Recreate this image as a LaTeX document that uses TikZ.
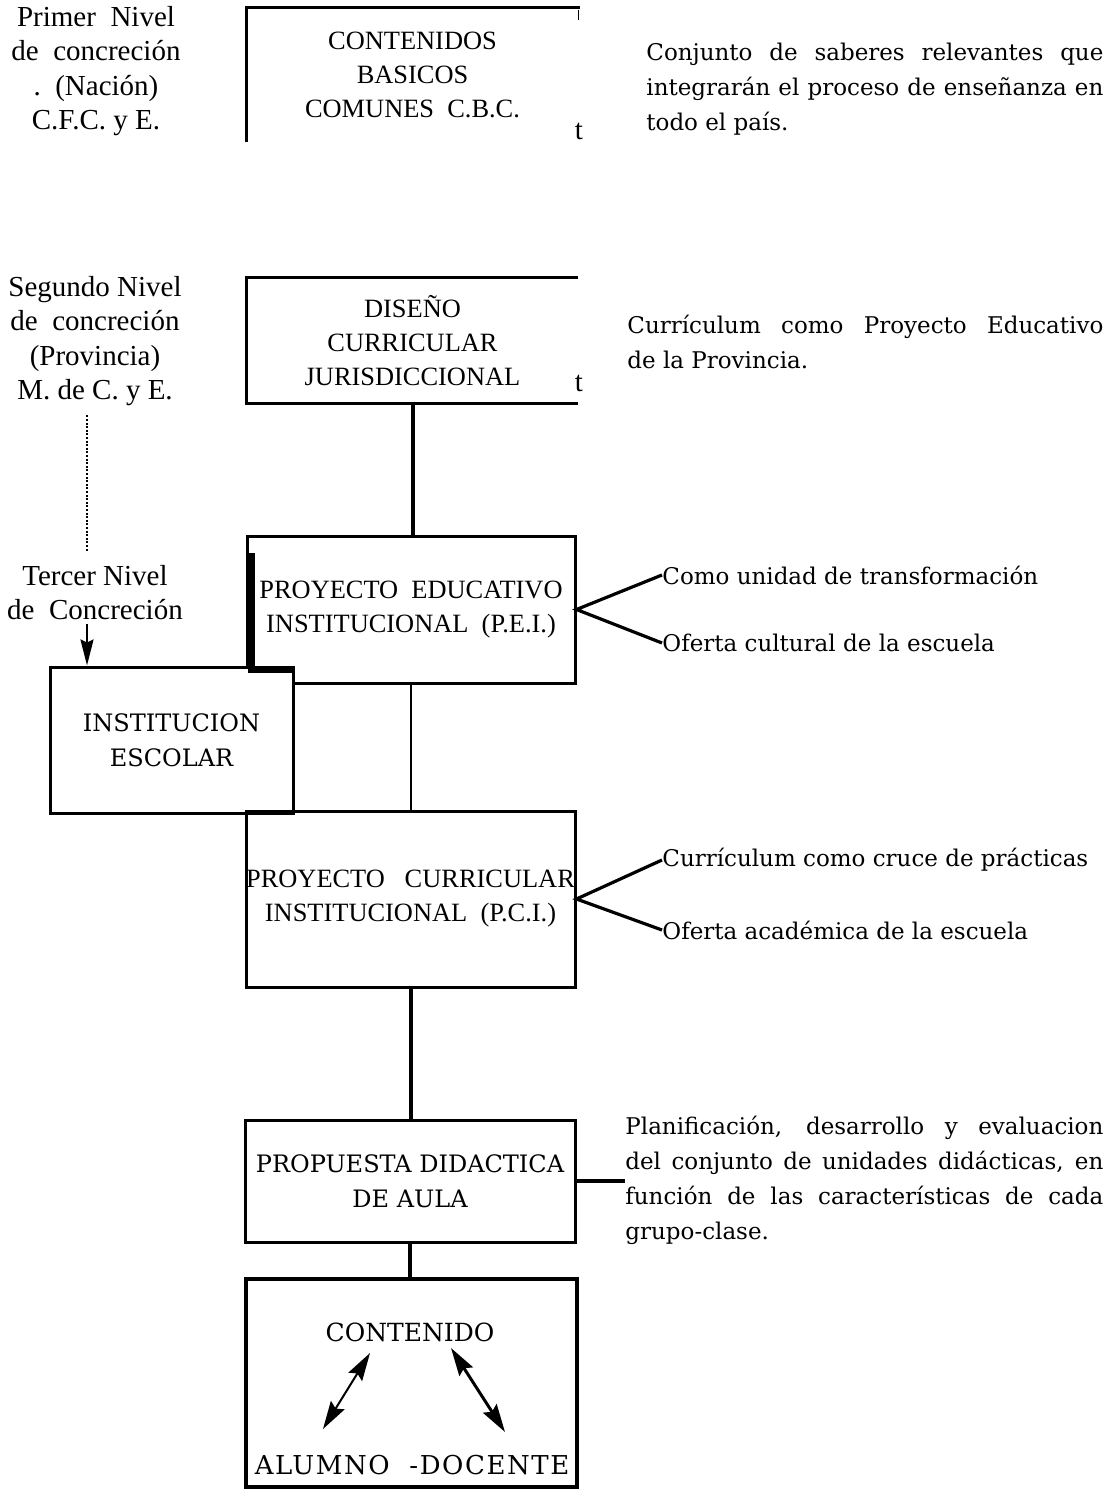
\documentclass[tikz,border=0pt]{standalone}
\usepackage{fontspec}
\setmainfont{Liberation Serif}
\newfontfamily\lucida{DejaVu Serif}
\usetikzlibrary{positioning,arrows.meta}

\begin{document}
\begin{tikzpicture}[x=0.5pt, y=-0.5pt,
    nivel/.style = {align=center, inner sep=0pt, font=\fontsize{14.5}{17.3}\selectfont},
    caja/.style = {align=center, inner sep=0pt, font=\fontsize{13.2}{17}\selectfont},
    cajalu/.style = {align=center, inner sep=0pt, font=\lucida\fontsize{12}{17.5}\selectfont},
    nota/.style = {anchor=west, inner sep=0pt, font=\lucida\fontsize{11.5}{17.5}\selectfont},
    bloque/.style = {nota, align=justify},
    trazo/.style = {line width=1.6pt},
    flecha/.style = {line width=1pt, {Stealth[length=14pt,width=8pt,inset=2pt]}-{Stealth[length=14pt,width=8pt,inset=2pt]}}]
                  \useasboundingbox (0,0) rectangle (1115,1491);
                  \node[nivel] (primer) at (96,71) {Primer\ \ Nivel\\de\ \ concreción\\.\ \ (Nación)\\C.F.C. y E.};
                  \node[nivel] (segundo) at (95,341) {Segundo Nivel\\de\ \ concreción\\(Provincia)\\M. de C. y E.};
                  \node[nivel] (tercer) at (95,592.5) {Tercer Nivel\\de\ \ Concreción};
                  \node[caja, minimum width=165.5pt, minimum height=67pt] (cbc) at (412.5,75) {CONTENIDOS\\BASICOS\\COMUNES\ \ C.B.C.};
                  \node[caja, minimum width=165.5pt, minimum height=62.5pt] (dcj) at (412.5,340.5) {DISEÑO\\CURRICULAR\\JURISDICCIONAL};
                  \node[caja, draw, line width=1.5pt, minimum width=164pt, minimum height=73.5pt] (pei) at (411,609.5) {PROYECTO\ \ EDUCATIVO\\INSTITUCIONAL\ \ (P.E.I.)};
                  \node[cajalu, draw, fill=white, line width=1.5pt, minimum width=121.5pt, minimum height=73pt] (inst) at (171.5,740) {INSTITUCION\\ESCOLAR};
                  \node[caja, draw, line width=1.5pt, minimum width=164.5pt, minimum height=88pt] (pci) at (410.5,899) {PROYECTO\ \ \ CURRICULAR\\INSTITUCIONAL\ \ (P.C.I.)};
                  \node[cajalu, draw, line width=1.5pt, minimum width=165pt, minimum height=61pt] (pda) at (410,1181) {PROPUESTA DIDACTICA\\DE AULA};
                  \node[draw, line width=2.2pt, minimum width=165.5pt, minimum height=104pt] (cont) at (411.5,1383) {};
                  \node[cajalu, font=\lucida\fontsize{12.5}{15}\selectfont] (conte) at (410,1332) {CONTENIDO};
                  \node[cajalu, font=\lucida\fontsize{13}{15}\selectfont\addfontfeature{LetterSpace=6}] (alumdoc) at (412,1465) {ALUMNO\ \ -DOCENTE};
                  \node[nivel] (t1) at (579,131) {t};
                  \node[nivel] (t2) at (579,383) {t};
                  \node[bloque, text width=228.5pt] (saberes) at (646,89) {Conjunto de saberes relevantes que\linebreak integrarán el proceso de enseñanza en\linebreak todo el país.};
                  \node[bloque, text width=238pt] (provincia) at (627,341.5) {Currículum como Proyecto Educativo\linebreak de la Provincia.};
                  \node[nota] (como) at (662,575) {Como unidad de transformación};
                  \node[nota] (ofcult) at (662,643) {Oferta cultural de la escuela};
                  \node[nota] (cruce) at (662,860) {Currículum como cruce de prácticas};
                  \node[nota] (ofacad) at (662,930) {Oferta académica de la escuela};
                  \node[bloque, text width=239pt] (plan) at (625,1180.5) {Planificación, desarrollo y evaluacion\linebreak del conjunto de unidades didácticas, en\linebreak función de las características de cada\linebreak grupo-clase.};
                  \coordinate (t3) at ([xshift=-4pt]tercer.south);
                  \coordinate (s3) at ([xshift=-4pt]segundo.south);
                  \coordinate (a1) at (370,1353);
                  \coordinate (a2) at (323,1429);
                  \coordinate (b1) at (451,1348);
                  \coordinate (b2) at (505,1432);
                  \draw[trazo] (cbc.south west) |- ([xshift=1pt]cbc.north east);
                  \draw[line width=0.8pt] ([yshift=-1pt]cbc.north east) -- ++(0,10);
                  \draw[trazo] (dcj.north east) -| (dcj.south west) -- (dcj.south east);
                  \draw[line width=2pt] (dcj.south) -- (dcj.south |- pei.north);
                  \draw[line width=1.2pt] (pei.south) -- (pei.south |- pci.north);
                  \draw[line width=2pt] (pci.south) -- (pci.south |- pda.north);
                  \draw[line width=1.6pt] (pda.south) -- (pda.south |- cont.north);
                  \draw[line width=3.5pt] ([xshift=2.75pt,yshift=-9.25pt]pei.north west) |- ([yshift=-2pt]inst.north east);
                  \draw[line width=1.2pt, dash pattern=on 1pt off 0.8pt, shorten <=4.5pt, shorten >=7pt] (s3) -- (s3 |- tercer.north);
                  \draw[line width=1pt, shorten <=2pt, -{Stealth[length=13pt,width=6.5pt,inset=1.5pt]}] (t3) -- (t3 |- inst.north);
                  \draw[trazo] (como.west) -- (pei.east) -- (ofcult.west);
                  \draw[trazo] (cruce.west) -- (pci.east) -- (ofacad.west);
                  \draw[trazo] (pda.east) -- (pda.east -| plan.west);
                  \draw[flecha] (a1) -- (a2);
                  \draw[flecha, line width=1.5pt] (b1) -- (b2);
              \end{tikzpicture}
\end{document}
